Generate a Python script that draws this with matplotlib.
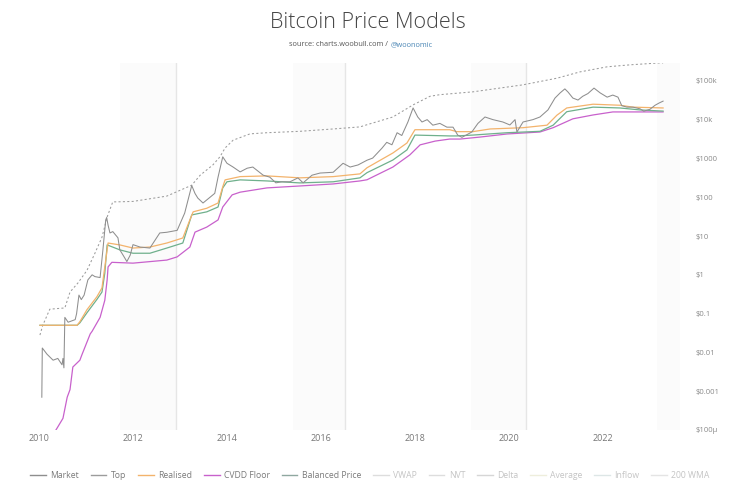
import matplotlib
matplotlib.use("Agg")
import matplotlib.pyplot as plt
from matplotlib.lines import Line2D
import numpy as np

# --- data (decimal year, USD) ---
market_years = [2010.06, 2010.07, 2010.17, 2010.30, 2010.40, 2010.49, 2010.51, 2010.53, 2010.55,
                2010.62, 2010.77, 2010.80, 2010.85, 2010.90, 2010.96, 2011.04, 2011.13, 2011.19,
                2011.30, 2011.36, 2011.42, 2011.44, 2011.47, 2011.51, 2011.57, 2011.68, 2011.72,
                2011.79, 2011.87, 2011.94, 2012.00, 2012.15, 2012.36, 2012.57, 2012.72, 2012.94,
                2013.10, 2013.25, 2013.32, 2013.38, 2013.49, 2013.64, 2013.74, 2013.81, 2013.91,
                2014.00, 2014.13, 2014.28, 2014.43, 2014.55, 2014.77, 2014.91, 2015.04, 2015.17,
                2015.34, 2015.51, 2015.62, 2015.81, 2015.98, 2016.26, 2016.47, 2016.62, 2016.79,
                2016.98, 2017.10, 2017.30, 2017.40, 2017.51, 2017.62, 2017.72, 2017.85, 2017.96,
                2018.06, 2018.15, 2018.26, 2018.38, 2018.53, 2018.68, 2018.81, 2018.91, 2019.00,
                2019.21, 2019.34, 2019.49, 2019.66, 2019.87, 2020.02, 2020.13, 2020.17, 2020.30,
                2020.51, 2020.66, 2020.83, 2020.98, 2021.09, 2021.19, 2021.26, 2021.36, 2021.47,
                2021.57, 2021.68, 2021.81, 2021.94, 2022.09, 2022.21, 2022.32, 2022.40, 2022.51,
                2022.64, 2022.79, 2022.87, 2023.00, 2023.11, 2023.20, 2023.28]
market_usd = [0.0007, 0.013, 0.009, 0.0063, 0.007, 0.0048, 0.007, 0.004, 0.08,
              0.06, 0.07, 0.1, 0.3, 0.23, 0.3, 0.74, 1.0, 0.9,
              0.85, 4.4, 26, 30, 19, 12, 13, 9, 4.4,
              3.2, 2.2, 3.2, 6.0, 5.2, 4.9, 12, 12.5, 14,
              39, 200, 125, 95, 71, 100, 126, 330, 1100,
              750, 600, 450, 560, 600, 370, 330, 235, 250,
              250, 315, 235, 370, 420, 440, 750, 600, 680,
              900, 1020, 1850, 2600, 2250, 4600, 3900, 8700, 20000,
              11700, 8700, 10000, 7200, 8000, 6400, 6400, 4000, 3500,
              4800, 8000, 11700, 10000, 8700, 7300, 10000, 4800, 8700,
              10000, 11700, 17800, 36000, 49000, 62000, 51000, 36000, 32000,
              40000, 47000, 65000, 49000, 38000, 43000, 38000, 23000, 21000,
              21000, 19000, 16500, 18500, 23500, 27000, 30000]

top_years = [2010.02, 2010.08, 2010.23, 2010.55, 2010.66, 2010.83, 2011.02, 2011.19, 2011.34,
             2011.45, 2011.57, 2011.66, 2012.00, 2012.72, 2013.25, 2013.43, 2013.70, 2013.85,
             2013.96, 2014.13, 2014.49, 2014.85, 2015.55, 2016.26, 2016.83, 2016.98, 2017.53,
             2017.96, 2018.32, 2018.53, 2019.23, 2020.30, 2021.02, 2021.51, 2022.09, 2022.60,
             2023.21, 2023.28]
top_usd = [0.028, 0.05, 0.13, 0.14, 0.36, 0.62, 1.3, 3.6, 9.3,
           31, 76, 76, 78, 107, 204, 370, 680, 1100,
           1860, 2950, 4300, 4600, 5000, 5750, 6500, 7400, 11700,
           24000, 40000, 44000, 52000, 79000, 117000, 170000, 230000, 260000,
           290000, 290000]

real_years = [2010.02, 2010.81, 2010.87, 2011.02, 2011.23, 2011.34, 2011.40, 2011.47, 2011.72,
              2012.00, 2012.36, 2012.72, 2013.06, 2013.21, 2013.28, 2013.57, 2013.81, 2013.91,
              2013.96, 2014.28, 2014.85, 2015.55, 2016.26, 2016.83, 2016.98, 2017.53, 2017.83,
              2018.00, 2018.74, 2018.89, 2019.23, 2019.60, 2020.30, 2020.81, 2021.02, 2021.23,
              2021.79, 2022.36, 2022.64, 2023.28]
real_usd = [0.05, 0.05, 0.062, 0.126, 0.27, 0.46, 1.6, 6.6, 5.9,
            4.9, 5.2, 6.6, 8.9, 26, 42, 52, 71, 186,
            280, 340, 355, 316, 340, 400, 575, 1380, 2500,
            5500, 5500, 4900, 4900, 5750, 6200, 7200, 13000, 20000,
            25000, 23500, 21000, 20000]

bal_years = [2010.02, 2010.81, 2010.87, 2011.02, 2011.23, 2011.34, 2011.40, 2011.45, 2011.72,
             2012.00, 2012.36, 2012.72, 2013.06, 2013.25, 2013.57, 2013.81, 2013.91, 2014.00,
             2014.28, 2014.85, 2015.55, 2016.26, 2016.83, 2016.98, 2017.53, 2017.83, 2018.00,
             2018.74, 2018.89, 2019.23, 2019.96, 2020.66, 2020.94, 2021.23, 2021.79, 2022.36,
             2022.79, 2023.28]
bal_usd = [0.05, 0.05, 0.058, 0.105, 0.23, 0.36, 1.1, 5.9, 4.4,
           3.6, 3.6, 4.9, 6.6, 35, 42, 56, 174, 250,
           280, 263, 234, 250, 316, 430, 910, 1660, 4000,
           3800, 3800, 4000, 4600, 5000, 7200, 16000, 21000, 20000,
           17800, 16600]

cvdd_years = [2010.36, 2010.40, 2010.51, 2010.60, 2010.66, 2010.72, 2010.87, 2010.91, 2011.09,
              2011.13, 2011.30, 2011.40, 2011.45, 2011.47, 2011.55, 2012.00, 2012.72, 2012.94,
              2013.21, 2013.32, 2013.57, 2013.81, 2013.91, 2014.11, 2014.28, 2014.85, 2015.55,
              2016.26, 2016.83, 2016.98, 2017.53, 2017.89, 2018.11, 2018.43, 2018.74, 2018.96,
              2019.38, 2019.96, 2020.66, 2020.94, 2021.36, 2021.79, 2022.21, 2022.79, 2023.28]
cvdd_usd = [0.0001, 0.00012, 0.0002, 0.0007, 0.0011, 0.0042, 0.0063, 0.0085, 0.03,
            0.035, 0.08, 0.22, 0.74, 1.6, 2.1, 2.0, 2.4, 2.9,
            5.2, 12.6, 17, 26, 56, 115, 135, 174, 195,
            220, 263, 282, 600, 1230, 2240, 2800, 3160, 3160,
            3550, 4270, 4800, 6200, 10500, 13200, 15800, 15800, 15800]

halvings = [2012.91, 2016.52, 2020.36]
band_starts = [2011.72, 2015.40, 2019.20, 2023.15]
band_ends = [2012.91, 2016.52, 2020.36, 2024.30]

year_ticks = [2010, 2012, 2014, 2016, 2018, 2020, 2022]
price_ticks = [1e-4, 1e-3, 1e-2, 1e-1, 1, 10, 100, 1000, 1e4, 1e5]
price_labels = ["$100\u03bc", "$0.001", "$0.01", "$0.1", "$1", "$10", "$100", "$1000", "$10k", "$100k"]

legend_names = ["Market", "Top", "Realised", "CVDD Floor", "Balanced Price",
                "VWAP", "NVT", "Delta", "Average", "Inflow", "200 WMA"]

plt.rcParams['font.family'] = ['Open Sans', 'DejaVu Sans']

fig = plt.figure(figsize=(7.4, 4.93), dpi=100)
ax = fig.add_axes([39 / 740, 1 - 430 / 493, (680 - 39) / 740, (430 - 63) / 493])

for s, e in zip(band_starts, band_ends):
    ax.axvspan(s, e, color='#fbfbfb', lw=0, zorder=0)
for h in halvings:
    ax.axvline(h, color='#e6e6e6', lw=1.0, zorder=1)

ax.plot(top_years, top_usd, color='#9c9c9c', lw=0.75, ls=(0, (2, 2.2)), zorder=3)
ax.plot(cvdd_years, cvdd_usd, color='#c861cc', lw=0.9, zorder=3)
ax.plot(bal_years, bal_usd, color='#6fb08c', lw=0.9, zorder=3)
ax.plot(real_years, real_usd, color='#f3b36c', lw=0.9, zorder=3)
ax.plot(market_years, market_usd, color='#8e8e8e', lw=0.75, zorder=4)

ax.set_yscale('log')
ax.set_xlim(2010.0, 2023.64)
ax.set_ylim(1e-4, 10 ** 5.46)
ax.set_xticks(year_ticks)
ax.set_xticklabels([str(y) for y in year_ticks])
ax.set_yticks(price_ticks)
ax.set_yticklabels(price_labels)
ax.minorticks_off()
ax.yaxis.tick_right()
ax.tick_params(axis='y', length=0, pad=11, labelsize=5.5, labelcolor='#8a8a8a')
ax.tick_params(axis='x', length=0, pad=3, labelsize=6.5, labelcolor='#777777')
for sp in ax.spines.values():
    sp.set_visible(False)

fig.text(0.497, 1 - 22 / 493, "Bitcoin Price Models", ha='center', va='center',
         fontsize=15.5, fontweight='light', color='#444444')
fig.text(390 / 740, 1 - 45 / 493, "source: charts.woobull.com / ", ha='right', va='center',
         fontsize=5.3, color='#555555')
fig.text(391 / 740, 1 - 45 / 493, "@woonomic", ha='left', va='center',
         fontsize=5.3, color='#4a86b5')

colors = ['#8e8e8e', '#9c9c9c', '#f3b36c', '#c861cc', '#8fa8a0',
          '#dddddd', '#dddddd', '#d6d6d6', '#eeeedc', '#dde6e6', '#e4e4e4']
handles = [Line2D([], [], color=c, lw=1.0) for c in colors]
leg = fig.legend(handles, legend_names, loc='center', bbox_to_anchor=(0.5, 1 - 476 / 493),
                 ncol=11, frameon=False, fontsize=6.2, handlelength=1.8,
                 handletextpad=0.5, columnspacing=1.4)
for i, t in enumerate(leg.get_texts()):
    t.set_color('#7a7a7a' if i < 5 else '#c4c4c4')

fig.savefig("out.png", dpi=100)
